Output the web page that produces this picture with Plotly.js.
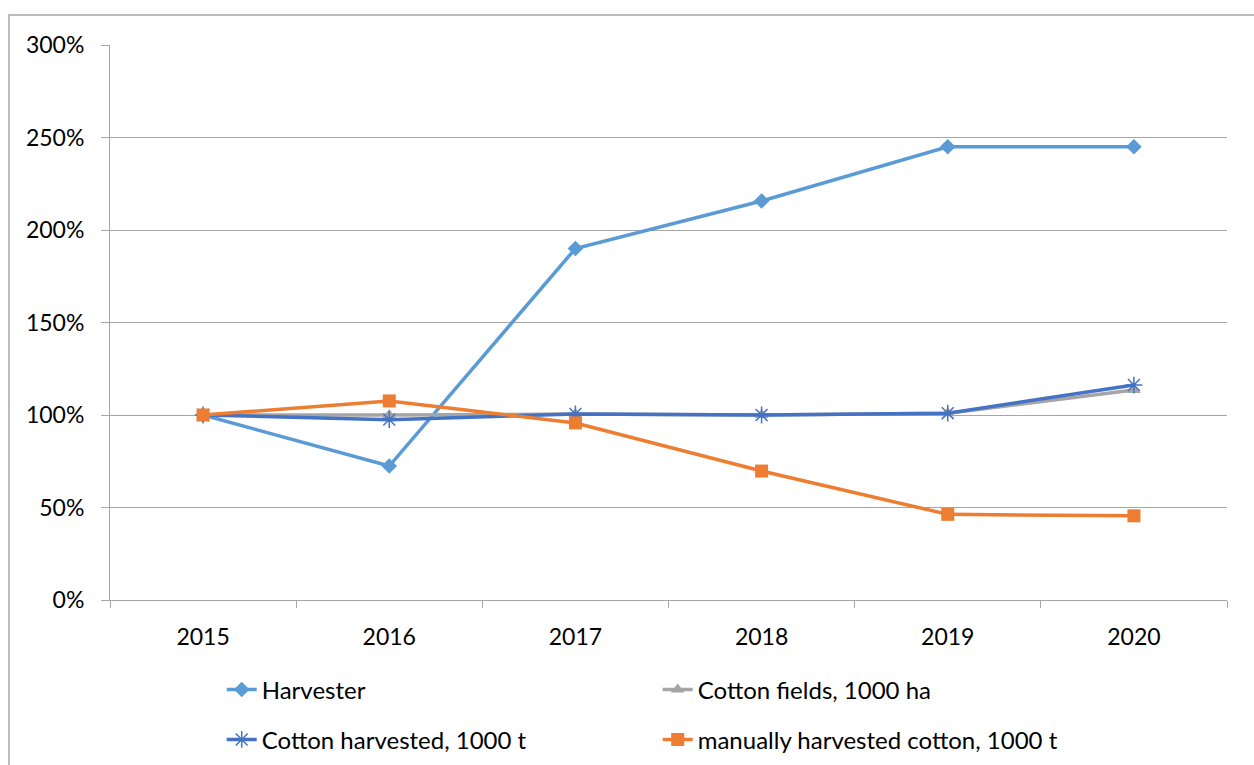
<!DOCTYPE html>
<html><head><meta charset="utf-8">
<script src="https://cdn.plot.ly/plotly-3.0.1.min.js"></script>
<style>html,body{margin:0;padding:0;background:#fff}#chart{width:1254px;height:765px}</style>
</head><body><div id="chart"></div>
<script>
const years = ['2015','2016','2017','2018','2019','2020'];
const harvester = [100, 72.4, 190, 215.7, 245, 245];
const cottonFields = [100, 100, 100.5, 100, 101, 113.5];
const cottonHarvested = [100, 97.5, 100.6, 100, 101, 116.2];
const manualCotton = [100, 107.6, 95.7, 69.7, 46.3, 45.5];
const names = ['Harvester','Cotton fields, 1000 ha','Cotton harvested, 1000 t','manually harvested cotton, 1000 t'];

const font = {family:'Lato, "Open Sans", sans-serif', size:23, color:'#000'};
const legendFont = {family:'Lato, "Open Sans", sans-serif', size:24, color:'#000'};
const traces = [
  {x:years, y:harvester, name:names[0], mode:'lines+markers', line:{color:'#5B9BD5', width:3.5}, marker:{symbol:'diamond', size:12, color:'#5B9BD5'}, legend:'legend'},
  {x:years, y:cottonFields, name:names[1], mode:'lines+markers', line:{color:'#A5A5A5', width:3.5}, marker:{symbol:'triangle-up', size:12, color:'#A5A5A5'}, legend:'legend'},
  {x:years, y:cottonHarvested, name:names[2], mode:'lines+markers', line:{color:'#4472C4', width:3.5}, marker:{symbol:'asterisk-open', size:14, line:{color:'#4472C4', width:1.5}}, legend:'legend2'},
  {x:years, y:manualCotton, name:names[3], mode:'lines+markers', line:{color:'#ED7D31', width:3.5}, marker:{symbol:'square', size:13, color:'#ED7D31'}, legend:'legend2'}
];
const layout = {
  width:1254, height:765,
  margin:{l:110, r:27, t:45, b:165, autoexpand:false},
  paper_bgcolor:'#fff', plot_bgcolor:'#fff',
  font:font,
  showlegend:true,
  xaxis:{type:'category', range:[-0.5,5.5], showgrid:false, showline:true, linecolor:'#A6A6A6', linewidth:1,
    ticks:'outside', tickson:'boundaries', ticklen:7, tickcolor:'#A6A6A6', ticklabelstandoff:16, zeroline:false, fixedrange:true},
  yaxis:{range:[0,300], dtick:50, ticksuffix:'%', showgrid:true, gridcolor:'#A6A6A6', gridwidth:1,
    showline:true, linecolor:'#A6A6A6', ticks:'outside', ticklen:8, tickcolor:'#A6A6A6', ticklabelstandoff:12, zeroline:false, fixedrange:true},
  legend:{orientation:'h', x:0.100, y:-0.162, xanchor:'left', yanchor:'middle', entrywidth:391, entrywidthmode:'pixels', font:legendFont, bgcolor:'rgba(0,0,0,0)'},
  legend2:{orientation:'h', x:0.100, y:-0.252, xanchor:'left', yanchor:'middle', entrywidth:391, entrywidthmode:'pixels', font:legendFont, bgcolor:'rgba(0,0,0,0)'},
  shapes:[{type:'rect', xref:'paper', yref:'paper', x0:-0.0904, x1:1.04, y0:-0.32, y1:1.0541, line:{color:'#A6A6A6', width:1.5}, layer:'below'}]
};
Plotly.newPlot('chart', traces, layout, {displayModeBar:false, staticPlot:true});
</script></body></html>
